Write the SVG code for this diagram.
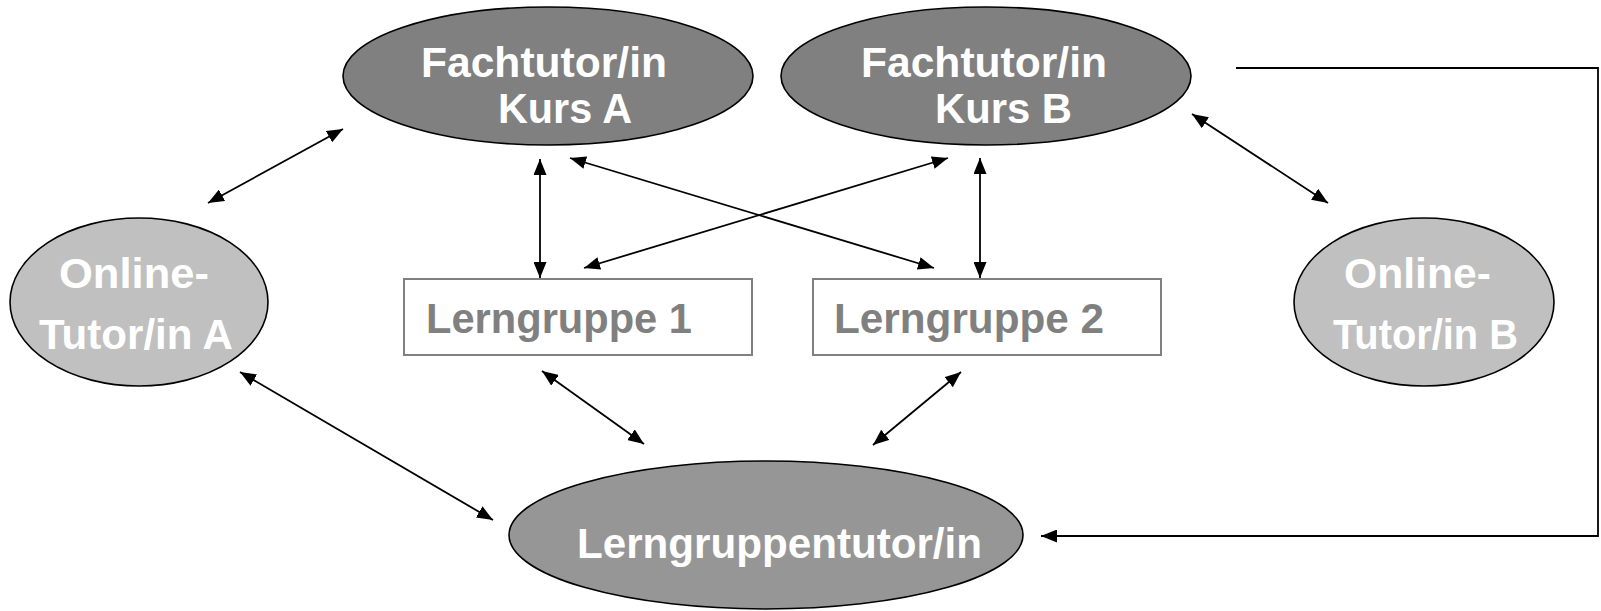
<svg xmlns="http://www.w3.org/2000/svg" width="1601" height="611" viewBox="0 0 1601 611">
<style>
.fach{fill:#808080;stroke:#000;stroke-width:1.6}
.lgt{fill:#969696;stroke:#000;stroke-width:1.6}
.onl{fill:#c0c0c0;stroke:#000;stroke-width:1.6}
.box{fill:#fff;stroke:#808080;stroke-width:2}
.t{font-family:"Liberation Sans",Arial,sans-serif;font-weight:bold;font-size:43px}
.w{fill:#fff}
.g{fill:#808080}
.c{fill:none;stroke:#000;stroke-width:1.8}
.a{marker-start:url(#ah);marker-end:url(#ah)}
</style>
<defs>
<marker id="ah" viewBox="0 0 16 13" refX="16" refY="6.5" markerWidth="16" markerHeight="13" markerUnits="userSpaceOnUse" orient="auto-start-reverse">
<path d="M0,0 L16,6.5 L0,13 z" fill="#000"/>
</marker>
</defs>
<rect width="1601" height="611" fill="#fff"/>
<g id="connectors">
<line class="c a" x1="343" y1="129" x2="208" y2="203"/>
<line class="c a" x1="540" y1="159" x2="540" y2="278"/>
<line class="c a" x1="570" y1="158" x2="934" y2="268"/>
<line class="c a" x1="948" y1="158" x2="584" y2="268"/>
<line class="c a" x1="980" y1="158" x2="980" y2="278"/>
<line class="c a" x1="1192" y1="114" x2="1328" y2="203"/>
<line class="c a" x1="240" y1="372" x2="493" y2="520"/>
<line class="c a" x1="542" y1="371" x2="644" y2="444"/>
<line class="c a" x1="961" y1="372" x2="873" y2="445"/>
<polyline class="c" points="1236,68 1598,68 1598,536 1041,536" style="marker-end:url(#ah)"/>
</g>
<g id="fachtutor-a">
<ellipse class="fach" cx="548" cy="76" rx="205" ry="69"/>
<text class="t w" x="421" y="77" textLength="246" lengthAdjust="spacingAndGlyphs">Fachtutor/in</text>
<text class="t w" x="498" y="123" textLength="134" lengthAdjust="spacingAndGlyphs">Kurs A</text>
</g>
<g id="fachtutor-b">
<ellipse class="fach" cx="986" cy="76" rx="205" ry="69"/>
<text class="t w" x="861" y="77" textLength="246" lengthAdjust="spacingAndGlyphs">Fachtutor/in</text>
<text class="t w" x="935" y="123" textLength="137" lengthAdjust="spacingAndGlyphs">Kurs B</text>
</g>
<g id="online-a">
<ellipse class="onl" cx="139" cy="302" rx="129" ry="84"/>
<text class="t w" x="59" y="288" textLength="150" lengthAdjust="spacingAndGlyphs">Online-</text>
<text class="t w" x="39" y="349" textLength="194" lengthAdjust="spacingAndGlyphs">Tutor/in A</text>
</g>
<g id="online-b">
<ellipse class="onl" cx="1424" cy="302" rx="130" ry="84"/>
<text class="t w" x="1344" y="288" textLength="147" lengthAdjust="spacingAndGlyphs">Online-</text>
<text class="t w" x="1333" y="349" textLength="185" lengthAdjust="spacingAndGlyphs">Tutor/in B</text>
</g>
<g id="lerngruppe-1">
<rect class="box" x="404" y="279" width="348" height="76"/>
<text class="t g" x="426" y="333" textLength="266" lengthAdjust="spacingAndGlyphs">Lerngruppe 1</text>
</g>
<g id="lerngruppe-2">
<rect class="box" x="813" y="279" width="348" height="76"/>
<text class="t g" x="834" y="333" textLength="270" lengthAdjust="spacingAndGlyphs">Lerngruppe 2</text>
</g>
<g id="lerngruppentutor">
<ellipse class="lgt" cx="766" cy="535" rx="257" ry="74"/>
<text class="t w" x="577" y="558" textLength="405" lengthAdjust="spacingAndGlyphs">Lerngruppentutor/in</text>
</g>
</svg>
